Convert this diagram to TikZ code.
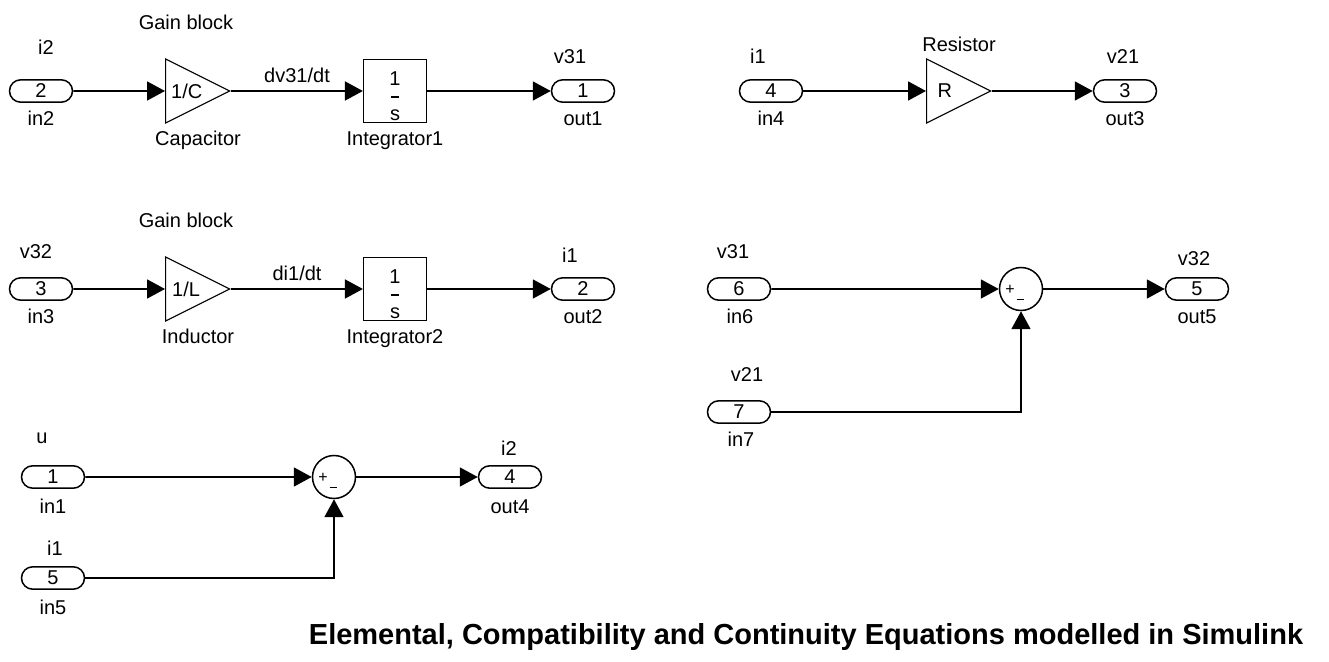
\documentclass[tikz,border=0pt]{standalone}
\usepackage{fontspec}
\setmainfont{Liberation Sans}
\usetikzlibrary{arrows.meta, positioning, shapes.geometric, shapes.misc}
\newcommand{\sumsigns}{\rlap{\hspace*{-7.8pt}\raisebox{-2.7pt}{\fontsize{8}{8}\selectfont +}}%
  \rlap{\hspace*{-2.2pt}\rule[-5.7pt]{3.5pt}{0.9pt}}}
\newcommand{\oneovers}{1\\\rule[2.5pt]{4pt}{0.9pt}\\s}

\begin{document}
\begin{tikzpicture}[
  x=0.5pt, y=-0.5pt,
  font=\fontsize{10}{12}\selectfont,
  port/.style={draw, line width=0.75pt, rounded rectangle, minimum width=31.5pt,
               minimum height=11.2pt, inner sep=0pt},
  gain/.style={draw, line width=0.6pt, isosceles triangle, isosceles triangle stretches,
               minimum width=32pt, minimum height=32pt, inner sep=0pt, anchor=lower side},
  integ/.style={draw, line width=0.6pt, minimum size=31.5pt, inner sep=0pt, align=center,
                font=\fontsize{10}{8.75}\selectfont, text height=29.5pt, text depth=0pt},
  sumblk/.style={draw, line width=0.75pt, circle, minimum size=21.5pt, inner sep=0pt,
                 text height=0pt, text depth=0pt},
  lbl/.style={inner sep=0pt, text height=7pt, text depth=2pt, yshift=-1pt},
  ar/.style={line width=0.9pt, -{Triangle[length=9pt, width=9.5pt]}},
]
\useasboundingbox (0,0) rectangle (1329,662);

% capacitor branch
\node[port] (in2) at (41,91) {2};
\node[gain] (cap) at (165,91) {1/C};
\node[integ] (int1) at (395,91) {\oneovers};
\node[port] (out1) at (583,91) {1};

% inductor branch
\node[port] (in3) at (41,289) {3};
\node[gain] (ind) at (165,289) {1/L};
\node[integ] (int2) at (395,289) {\oneovers};
\node[port] (out2) at (583,289) {2};

% resistor
\node[port] (in4) at (771,91) {4};
\node[gain] (res) at (926,91) {R};
\node[port] (out3) at (1125,91) {3};

% continuity / compatibility sums
\node[port] (in1) at (53,477) {1};
\node[port] (in5) at (53,578) {5};
\node[sumblk] (sum1) at (334,477) {\sumsigns};
\node[port] (out4) at (510,477) {4};

\node[port] (in6) at (739,289) {6};
\node[port] (in7) at (739,412) {7};
\node[sumblk] (sum2) at (1021,289) {\sumsigns};
\node[port] (out5) at (1197,289) {5};

\draw[ar] (in2) -- (cap);
\draw[ar] (cap) -- node[lbl, above=3pt] (dv31) {dv31/dt} (int1);
\draw[ar] (in3) -- (ind);
\draw[ar] (ind) -- node[lbl, above=3pt] (di1) {di1/dt} (int2);
\foreach \a/\b in {int1/out1, int2/out2, in4/res, res/out3, in1/sum1, sum1/out4, in6/sum2, sum2/out5}
  \draw[ar] (\a) -- (\b);
\draw[ar] (in5) -| (sum1);
\draw[ar] (in7) -| (sum2);

% block names and signal names
\foreach \n/\x/\y/\t in {gb1/186/23/Gain block, gb2/186/221/Gain block,
    capn/198/139/Capacitor, indn/198/337/Inductor, int1n/395/139/Integrator1,
    int2n/395/337/Integrator2, resn/959/45/Resistor,
    s1/46/48/i2, p1/41/119/in2, s2/570/57/v31, p2/583/119/out1,
    s3/36/252/v32, p3/41/317/in3, s4/570/256/i1, p4/583/317/out2,
    s5/758/57/i1, p5/771/119/in4, s6/1123/57/v21, p6/1125/119/out3,
    s7/42/437/u, p7/53/507/in1, s8/55/549/i1, p8/53/608/in5,
    s9/509/449/i2, p9/510/507/out4,
    s10/733/252/v31, p10/740/317/in6, s11/747/375/v21, p11/741/440/in7,
    s12/1194/259/v32, p12/1197/317/out5}
  \node[lbl] (\n) at (\x,\y) {\t};

\node[anchor=base, font=\fontsize{14.5}{16}\selectfont\bfseries] (title) at (806,645)
  {Elemental, Compatibility and Continuity Equations modelled in Simulink};
\end{tikzpicture}
\end{document}
